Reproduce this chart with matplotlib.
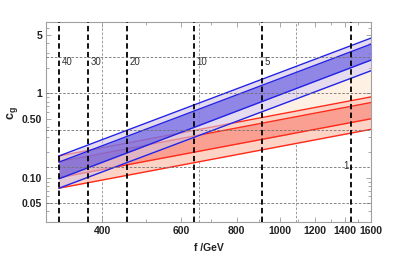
import numpy as np
import matplotlib.pyplot as plt
from matplotlib.ticker import FixedLocator, NullFormatter


# end points of the straight (log-log) band edges, read at f = 320 and 1600 GeV
F_ENDS = [320, 1600]
BLUE_LEFT = [0.181, 0.153, 0.097, 0.075]
BLUE_RIGHT = [4.54, 3.85, 2.49, 1.86]
RED_LEFT = [0.181, 0.155, 0.100, 0.075]
RED_RIGHT = [0.91, 0.78, 0.50, 0.375]

# black dashed reference lines and their labels
VLINE_F = [320, 372, 455, 643, 912, 1445]
VLINE_LABELS = ["40", "30", "20", "10", "5", "1"]

# gray dashed grid
GRID_X = [400, 659.5, 1087]
GRID_Y = [2.718, 1.0, 0.368, 0.135, 0.0498]

X_TICKS = [400, 600, 800, 1000, 1200, 1400, 1600]
Y_TICKS = [0.05, 0.10, 0.50, 1, 5]
Y_TICK_LABELS = ["0.05", "0.10", "0.50", "1", "5"]

BLUE_LINE = "#2323e6"
RED_LINE = "#ff2a1a"

plt.rcParams["font.family"] = ["Liberation Sans", "DejaVu Sans"]
plt.rcParams["mathtext.fontset"] = "custom"
plt.rcParams["mathtext.rm"] = "Liberation Sans"
plt.rcParams["mathtext.bf"] = "Liberation Sans:bold"


def edge(left, right, i):
    return [left[i], right[i]]


def main() -> None:
    fig = plt.figure(figsize=(3.93, 2.59), dpi=100)
    ax = fig.add_axes([0.1183, 0.144, 0.9440 - 0.1183, 0.915 - 0.144])
    ax.set_xscale("log")
    ax.set_yscale("log")

    # very light region between top red edge and lowest blue edge
    ax.fill_between(F_ENDS, edge(RED_LEFT, RED_RIGHT, 0), edge(BLUE_LEFT, BLUE_RIGHT, 3),
                    color="#fff0e4", lw=0, zorder=1)

    # red band
    ax.fill_between(F_ENDS, edge(RED_LEFT, RED_RIGHT, 0), edge(RED_LEFT, RED_RIGHT, 3),
                    color="#fdd3c6", lw=0, zorder=2)
    ax.fill_between(F_ENDS, edge(RED_LEFT, RED_RIGHT, 1), edge(RED_LEFT, RED_RIGHT, 2),
                    color="#f9a093", lw=0, zorder=2)
    for i in range(4):
        ax.plot(F_ENDS, edge(RED_LEFT, RED_RIGHT, i), color=RED_LINE, lw=1.0, zorder=2.5)

    # blue band (semi transparent over the red one)
    ax.fill_between(F_ENDS, edge(BLUE_LEFT, BLUE_RIGHT, 0), edge(BLUE_LEFT, BLUE_RIGHT, 3),
                    color="#d4c4e4", alpha=0.6, lw=0, zorder=3)
    ax.fill_between(F_ENDS, edge(BLUE_LEFT, BLUE_RIGHT, 1), edge(BLUE_LEFT, BLUE_RIGHT, 2),
                    color="#5d52e0", alpha=0.62, lw=0, zorder=3)
    for i in range(4):
        ax.plot(F_ENDS, edge(BLUE_LEFT, BLUE_RIGHT, i), color=BLUE_LINE, lw=1.0, zorder=4)

    # grid
    for gx in GRID_X:
        ax.axvline(gx, color="#8a8a8a", lw=0.6, ls=(0, (3, 2)), zorder=0.5)
    for gy in GRID_Y:
        ax.axhline(gy, color="#707070", lw=0.6, ls=(0, (3, 2)), zorder=5)

    # reference lines
    for fv, lab in zip(VLINE_F, VLINE_LABELS):
        ax.axvline(fv, color="black", lw=1.3, ls=(0, (3.0, 1.8)), zorder=6)
        if lab == "1":
            ax.text(fv * 0.985, 0.137, lab, ha="right", va="center",
                    fontsize=7, color="#333333", zorder=7)
        else:
            ax.text(fv * 1.012, 2.37, lab, ha="left", va="center",
                    fontsize=7, color="#333333", zorder=7)

    ax.set_xlim(300, 1600)
    ax.set_ylim(0.03, 7.05)

    ax.xaxis.set_major_locator(FixedLocator(X_TICKS))
    ax.set_xticklabels([str(t) for t in X_TICKS])
    ax.xaxis.set_minor_locator(FixedLocator([300, 500, 700, 900, 1100, 1300, 1500]))
    ax.xaxis.set_minor_formatter(NullFormatter())
    ax.yaxis.set_major_locator(FixedLocator(Y_TICKS))
    ax.set_yticklabels(Y_TICK_LABELS)
    minor_y = [0.03, 0.04, 0.06, 0.07, 0.08, 0.09, 0.2, 0.3, 0.4, 0.6, 0.7, 0.8, 0.9,
               2, 3, 4, 6, 7]
    ax.yaxis.set_minor_locator(FixedLocator(minor_y))
    ax.yaxis.set_minor_formatter(NullFormatter())

    ax.tick_params(which="both", direction="in", top=True, right=True,
                   color="#9a9a9a", width=0.6)
    ax.tick_params(which="major", length=3.5, labelsize=7.5, pad=3,
                   labelcolor="#222222")
    ax.tick_params(which="minor", length=2)
    for lbl in ax.get_xticklabels() + ax.get_yticklabels():
        lbl.set_fontweight("bold")

    for spine in ax.spines.values():
        spine.set_color("#a0a0a0")
        spine.set_linewidth(0.8)

    fig.text(209 / 393, 1 - 248 / 259, "f /GeV", ha="center", va="center",
             fontsize=7.5, fontweight="bold", color="#222222")
    fig.text(13 / 393, 1 - 113 / 259, r"$\mathbf{c}_\mathbf{g}$", ha="center",
             va="center", rotation=90, fontsize=9, color="#222222")

    fig.savefig("out.png", dpi=100)
    plt.close(fig)


if __name__ == "__main__":
    main()
